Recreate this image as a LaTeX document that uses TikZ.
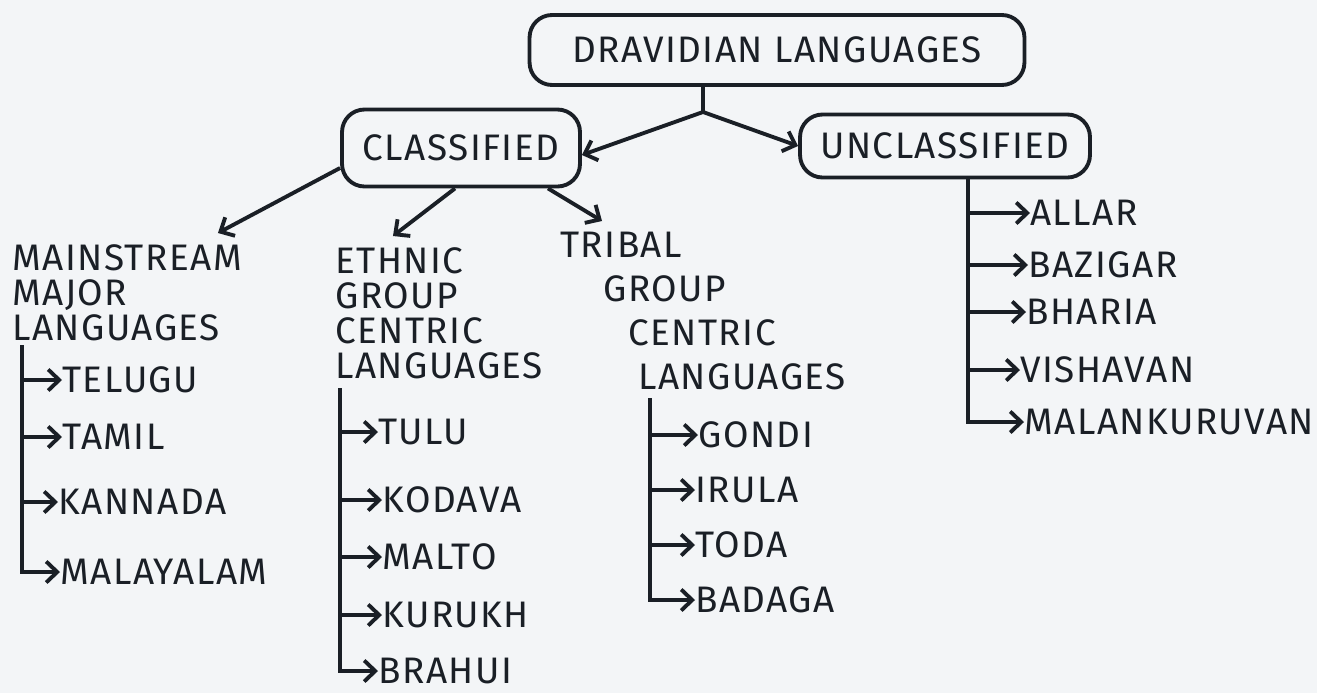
\documentclass[tikz,border=0pt]{standalone}
\usepackage{fontspec}
\setmainfont[LetterSpace=4]{Fira Sans}
\usetikzlibrary{arrows.meta, positioning}
\definecolor{paper}{HTML}{F3F5F7}
\definecolor{ink}{HTML}{1A1F26}

\begin{document}
\begin{tikzpicture}[
    x=0.02cm, y=-0.02cm,
    box/.style = {draw=ink, line width=2.2pt, rounded corners=0.45cm, align=center, inner sep=0pt, text=ink, font=\fontsize{21}{20}\selectfont},
    link/.style = {draw=ink, line width=2.2pt},
    arrow/.style = {link, -{Straight Barb[length=2.2mm, width=4.2mm]}},
    header/.style = {anchor=north west, align=left, inner sep=0pt, text=ink, font=\fontsize{21}{20}\selectfont},
    item/.style = {anchor=west, inner sep=0pt, text=ink, font=\fontsize{21}{20}\selectfont}
]

% paper background, fixes the size of the page
\fill[paper] (0,0) rectangle (1317,693);
\useasboundingbox (0,0) rectangle (1317,693);

% boxes at the top
\node[box, minimum width=9.9cm, minimum height=1.4cm] (root) at (777,50) {DRAVIDIAN LANGUAGES};
\node[box, minimum width=4.76cm, minimum height=1.54cm] (classified) at (461,148) {CLASSIFIED};
\node[box, minimum width=5.8cm, minimum height=1.26cm] (unclassified) at (945,146) {UNCLASSIFIED};

% split below the root box
\coordinate (split) at (703,112);
\draw[link] ([xshift=-1.48cm]root.south) -- (split);
\draw[arrow] (split) -- ([yshift=-0.14cm]classified.east);
\draw[arrow] (split) -- (unclassified.west);

% headings under classified
\node[header] (mainstream) at (12,244) {MAINSTREAM\\MAJOR\\LANGUAGES};
\node[header] (ethnic) at (335,247) {ETHNIC\\GROUP\\CENTRIC\\LANGUAGES};
\node[header, font=\fontsize{21}{25}\selectfont] (tribal) at (560,232)
    {TRIBAL\\\hspace*{0.86cm}GROUP\\\hspace*{1.36cm}CENTRIC\\\hspace*{1.56cm}LANGUAGES};

\draw[arrow] ([yshift=-0.4cm]classified.west) -- ([xshift=4.12cm, yshift=0.22cm]mainstream.north west);
\draw[arrow] ([xshift=-0.12cm]classified.south) -- ([xshift=1.16cm, yshift=0.22cm]ethnic.north west);
\draw[arrow] ([xshift=1.74cm]classified.south) -- ([xshift=0.84cm, yshift=0.22cm]tribal.north west);

% mainstream major languages
\node[item] (telugu) at (62,380) {TELUGU};
\node[item] (tamil) at (62,437) {TAMIL};
\node[item] (kannada) at (58,502) {KANNADA};
\node[item] (malayalam) at (60,572) {MALAYALAM};
\coordinate (mtrunk) at (22,345);
\draw[link] (mtrunk) -- (mtrunk |- kannada.west);
\foreach \lang in {telugu, tamil, kannada}
    \draw[arrow] (mtrunk |- \lang.west) -- (\lang.west);
\draw[arrow] (mtrunk) |- (malayalam.west);

% ethnic group centric languages
\node[item] (tulu) at (378,432) {TULU};
\node[item] (kodava) at (382,500) {KODAVA};
\node[item] (malto) at (382,557) {MALTO};
\node[item] (kurukh) at (382,615) {KURUKH};
\node[item] (brahui) at (378,671) {BRAHUI};
\coordinate (etrunk) at (340,388);
\draw[link] (etrunk) -- (etrunk |- kurukh.west);
\foreach \lang in {tulu, kodava, malto, kurukh}
    \draw[arrow] (etrunk |- \lang.west) -- (\lang.west);
\draw[arrow] (etrunk) |- (brahui.west);

% tribal group centric languages
\node[item] (gondi) at (698,435) {GONDI};
\node[item] (irula) at (695,490) {IRULA};
\node[item] (toda) at (695,545) {TODA};
\node[item] (badaga) at (695,600) {BADAGA};
\coordinate (ttrunk) at (650,398);
\draw[link] (ttrunk) -- (ttrunk |- toda.west);
\foreach \lang in {gondi, irula, toda}
    \draw[arrow] (ttrunk |- \lang.west) -- (\lang.west);
\draw[arrow] (ttrunk) |- (badaga.west);

% unclassified languages
\node[item] (allar) at (1030,213) {ALLAR};
\node[item] (bazigar) at (1028,265) {BAZIGAR};
\node[item] (bharia) at (1026,312) {BHARIA};
\node[item] (vishavan) at (1020,370) {VISHAVAN};
\node[item] (malankuruvan) at (1024,422) {MALANKURUVAN};
\coordinate (utrunk) at ([xshift=0.46cm]unclassified.south);
\draw[link] (utrunk) -- (utrunk |- vishavan.west);
\foreach \lang in {allar, bazigar, bharia, vishavan}
    \draw[arrow] (utrunk |- \lang.west) -- (\lang.west);
\draw[arrow] (utrunk) |- (malankuruvan.west);

\end{tikzpicture}
\end{document}
